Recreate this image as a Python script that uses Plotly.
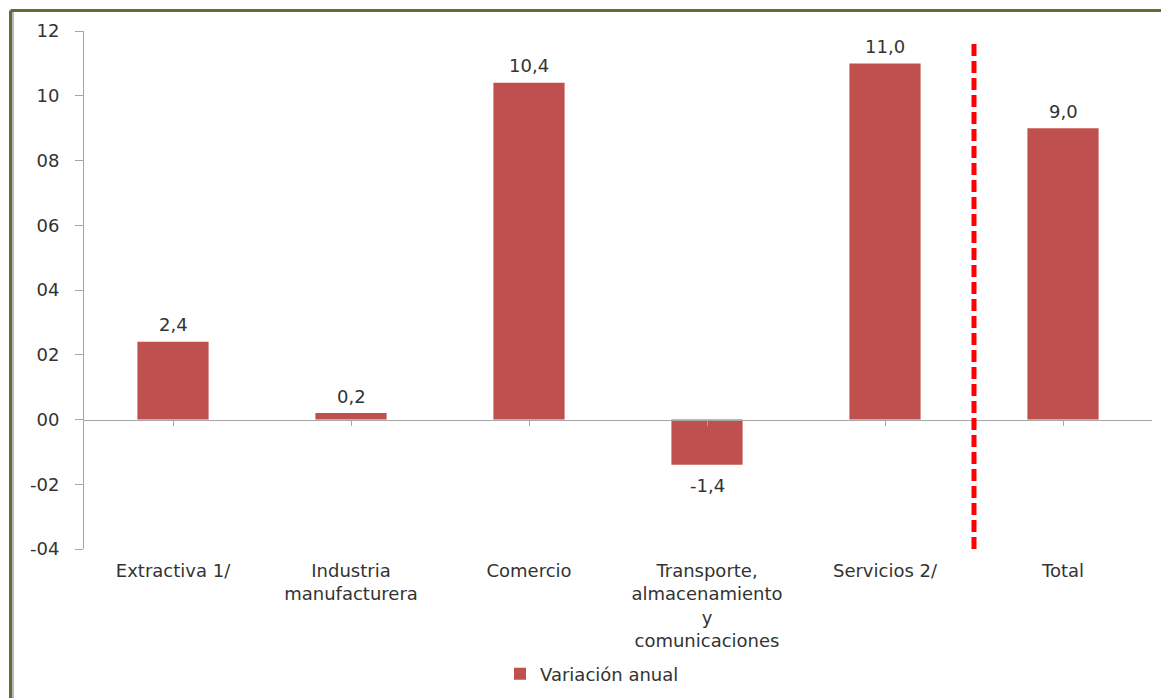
import plotly.graph_objects as go

categories = ["Extractiva 1/", "Industria<br>manufacturera", "Comercio",
              "Transporte,<br>almacenamiento<br>y<br>comunicaciones", "Servicios 2/", "Total"]
values = [2.4, 0.2, 10.4, -1.4, 11.0, 9.0]
value_labels = ["2,4", "0,2", "10,4", "-1,4", "11,0", "9,0"]
ytick_vals = [-4, -2, 0, 2, 4, 6, 8, 10, 12]
ytick_text = ["-04", "-02", "00", "02", "04", "06", "08", "10", "12"]
series_name = "Variación anual"

# the page body has an 8px margin, so the figure starts at (8, 8) on screen
OFF = 8
W, H = 1169, 698
L, T = 84 - OFF, 31 - OFF
R = W - (1152 - OFF)
B = H - (549 - OFF)
pw, ph = W - L - R, H - T - B

FONT = "DejaVu Sans"
FS = 18
TXT = "#333333"
idx = list(range(len(categories)))

fig = go.Figure()
fig.add_trace(go.Bar(
    x=idx, y=values, name=series_name, width=0.4,
    marker=dict(color="#C0504D", line=dict(width=0)),
))
# invisible trace to carry the zero-line category axis with tick marks
fig.add_trace(go.Scatter(x=idx, y=[0] * len(idx), xaxis="x2", mode="markers",
                         marker=dict(opacity=0), showlegend=False, hoverinfo="skip"))

# data labels
for i, (v, lab) in enumerate(zip(values, value_labels)):
    fig.add_annotation(x=i, y=v, xref="x", yref="y", text=lab, showarrow=False,
                       yanchor="middle", yshift=17 if v >= 0 else -21,
                       font=dict(family=FONT, size=FS, color=TXT))

fig.update_layout(
    width=W, height=H,
    margin=dict(l=L, r=R, t=T, b=B),
    paper_bgcolor="white", plot_bgcolor="white",
    font=dict(family=FONT, size=FS, color=TXT),
    bargap=0.6,
    xaxis=dict(range=[-0.5, 5.5], tickvals=idx, ticktext=categories,
               showgrid=False, zeroline=False, showline=False, ticks="",
               ticklabelstandoff=9,
               tickfont=dict(family=FONT, size=FS, color=TXT)),
    xaxis2=dict(range=[-0.5, 5.5], overlaying="x", anchor="free",
                position=(0 - (-4)) / 16, tickvals=idx, showticklabels=False,
                ticks="outside", ticklen=5, tickcolor="#A6A6A6",
                showline=True, linecolor="#A6A6A6", linewidth=1,
                showgrid=False, zeroline=False),
    yaxis=dict(range=[-4, 12], tickvals=ytick_vals, ticktext=ytick_text,
               showgrid=False, zeroline=False, showline=True, linecolor="#A6A6A6",
               linewidth=1, ticks="outside", ticklen=8, tickcolor="#A6A6A6",
               ticklabelstandoff=12,
               tickfont=dict(family=FONT, size=FS, color=TXT)),
    showlegend=True,
    legend=dict(orientation="h", x=(592 - 84) / pw, y=(549 - 674) / ph,
                xanchor="center", yanchor="middle",
                font=dict(family=FONT, size=FS, color=TXT), bgcolor="rgba(0,0,0,0)"),
)

# separator dashed line between Servicios and Total
fig.add_shape(type="line", xref="x", yref="y", x0=4.5, x1=4.5, y0=-4.0, y1=11.6,
              line=dict(color="#FF0000", width=5, dash="12px,5px"))

# outer frame (top and left border)
bx = (10.5 - 84) / pw
by = 1 + (31 - 10.5) / ph
fig.add_shape(type="line", xref="paper", yref="paper", x0=bx, x1=1 + R / pw + 0.01,
              y0=by, y1=by, line=dict(color="#5F7032", width=3))
fig.add_shape(type="line", xref="paper", yref="paper", x0=bx, x1=bx,
              y0=by, y1=-B / ph - 0.01, line=dict(color="#5F7032", width=3))
fig.add_shape(type="line", xref="paper", yref="paper", x0=bx + 2.5 / pw, x1=bx + 2.5 / pw,
              y0=by - 1.5 / ph, y1=-B / ph - 0.01, line=dict(color="#A0A0A0", width=1.5))

fig.write_html("out.html")
